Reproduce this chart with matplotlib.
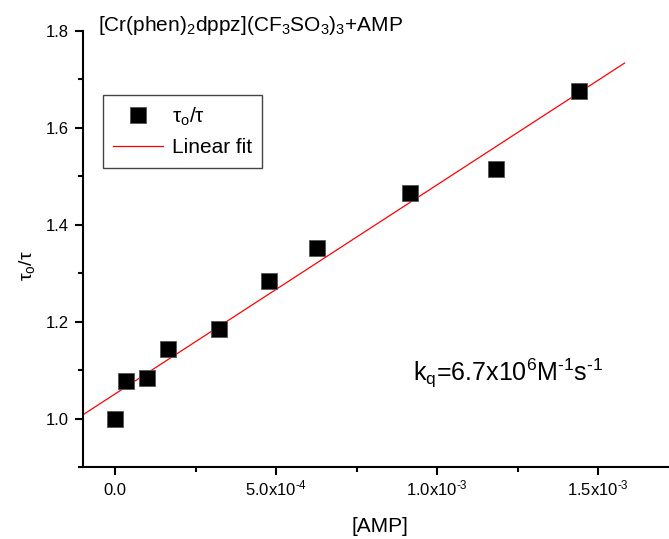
''' Stern-Volmer plot of lifetime quenching
tau_o/tau vs [AMP] with linear fit '''

import matplotlib.pyplot as plt
import numpy as np

plt.rcParams['font.family'] = ['Liberation Sans', 'DejaVu Sans']
plt.rcParams['mathtext.fontset'] = 'custom'
plt.rcParams['mathtext.rm'] = 'Liberation Sans'
plt.rcParams['mathtext.it'] = 'Liberation Sans'
plt.rcParams['mathtext.bf'] = 'Liberation Sans:bold'

amp = [0.0, 3.3e-5, 1.0e-4, 1.65e-4, 3.23e-4, 4.79e-4, 6.28e-4, 9.15e-4, 1.184e-3, 1.439e-3]   # [AMP] / M
ratio = [1.0, 1.077, 1.083, 1.144, 1.184, 1.283, 1.352, 1.466, 1.515, 1.677]                  # tau_o/tau

fit_slope = 431.6        # linear fit parameters
fit_intercept = 1.051
fit_range = [-1.0e-4, 1.582e-3]

hy = '\u2010'    # plain hyphen for exponents (mathtext turns '-' into a minus)
xticks = [0.0, 5.0e-4, 1.0e-3, 1.5e-3]
xticklabels = ['0.0', '5.0x10$^{%s4}$' % hy, '1.0x10$^{%s3}$' % hy, '1.5x10$^{%s3}$' % hy]
yticks = [1.0, 1.2, 1.4, 1.6, 1.8]

fig = plt.figure(figsize=(6.69, 5.39), dpi=100)
ax = fig.add_axes([83/669, 1-467/539, 1-83/669, (467-31)/539])

x_fit = np.linspace(fit_range[0], fit_range[1], 2)
y_fit = fit_intercept + fit_slope * x_fit

ax.plot(amp, ratio, 's', color='black', markersize=11, markeredgecolor='#555555',
        markeredgewidth=0.6, label=r'$\mathrm{\tau_o/\tau}$', zorder=3)
ax.plot(x_fit, y_fit, color='red', linewidth=0.9, label='Linear fit', zorder=2)

ax.set_xlim(-1.0e-4, 1.72e-3)
ax.set_ylim(0.9, 1.8)
ax.set_xticks(xticks)
ax.set_xticklabels(xticklabels)
ax.set_xticks([2.5e-4, 7.5e-4, 1.25e-3], minor=True)
ax.set_yticks(yticks)
ax.set_yticklabels(['%.1f' % v for v in yticks])
ax.set_yticks([0.9, 1.1, 1.3, 1.5, 1.7], minor=True)

for side in ['top', 'right']:
    ax.spines[side].set_visible(False)
for side in ['left', 'bottom']:
    ax.spines[side].set_linewidth(1.5)

ax.tick_params(which='major', direction='out', length=6, width=1.5, labelsize=12)
ax.tick_params(which='minor', direction='out', length=3.5, width=1.5)
ax.tick_params(axis='y', which='major', pad=4)
ax.tick_params(axis='x', which='major', pad=14.5)
for lab in ax.get_xticklabels():
    lab.set_verticalalignment('baseline')

ax.set_xlabel('[AMP]', fontsize=15)
ax.xaxis.set_label_coords((380-83)/586, -(517-467)/436)
ax.set_ylabel(r'$\mathrm{\tau_o/\tau}$', fontsize=14)
ax.yaxis.set_label_coords(-(83-37)/586, (467-266)/436)

fig.text(98/669, 1-31/539, r'[Cr(phen)$_2$dppz](CF$_3$SO$_3$)$_3$+AMP', fontsize=15,
         ha='left', va='baseline')
ax.text(9.26e-4, 1.077, 'k$_q$=6.7x10$^6$M$^{%s1}$s$^{%s1}$' % (hy, hy), fontsize=18,
        ha='left', va='baseline')

leg = ax.legend(loc='upper left', bbox_to_anchor=((103-83)/586, (467-95)/436), fontsize=15,
                frameon=True, fancybox=False, edgecolor='#444444', framealpha=1,
                handlelength=2.4, handletextpad=0.4, borderpad=0.5, labelspacing=0.5,
                borderaxespad=0)
leg.get_frame().set_linewidth(1.0)

plt.savefig('out.png')
